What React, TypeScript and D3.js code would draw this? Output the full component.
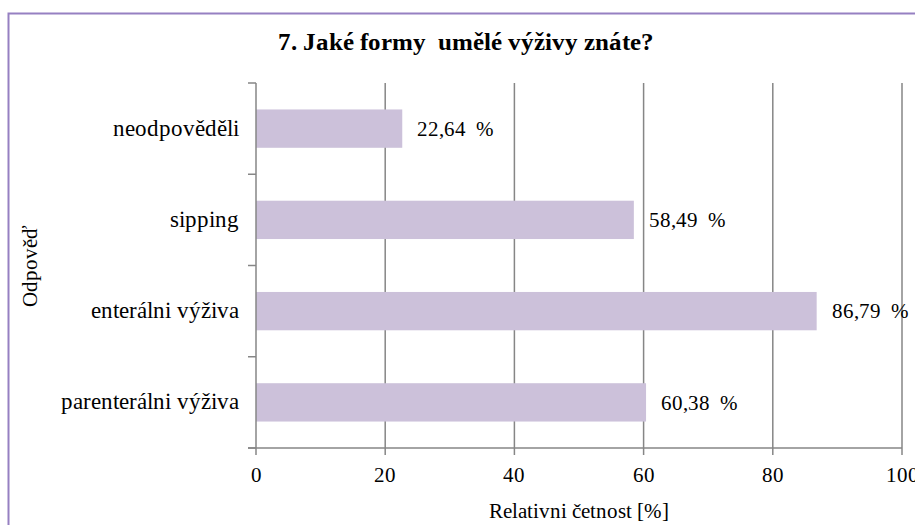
import React from 'react';
import * as d3 from 'd3';

const title = '7. Jaké formy  umělé výživy znáte?';
const categories = ['neodpověděli', 'sipping', 'enterálni výživa', 'parenterálni výživa'];
const values = [22.64, 58.49, 86.79, 60.38];
const xTicks = [0, 20, 40, 60, 80, 100];
const xAxisTitle = 'Relativni četnost [%]';
const yAxisTitle = 'Odpověď';

const W = 915;
const H = 525;
const FONT = "ChartSerif, 'Liberation Serif', 'Times New Roman', Tinos, FreeSerif, monospace";

const fontCss = `
@font-face { font-family: 'ChartSerif'; font-weight: 400; src: local('Liberation Serif'), local('LiberationSerif'), local('LiberationSerif-Regular'), local('Tinos'), local('FreeSerif'); }
@font-face { font-family: 'ChartSerif'; font-weight: 700; src: local('Liberation Serif Bold'), local('LiberationSerif-Bold'), local('Tinos Bold'), local('FreeSerif Bold'); }
`;

const fmt = (v: number) => d3.format('.2f')(v).replace('.', ',') + '\u00a0\u00a0%';

export default function App() {
  const x = d3.scaleLinear().domain([0, 100]).range([256, 902]);
  const y = d3.scaleBand<string>().domain(categories).range([83, 448]).paddingInner(0.58).paddingOuter(0.29);
  const step = y.step();
  const [y0, y1] = y.range();
  const bounds = d3.range(categories.length + 1).map((i) => y0 + i * step);
  const ts: React.CSSProperties = { fontFamily: FONT };

  return (
    <svg
      width={W}
      height={H}
      style={{ position: 'absolute', left: 0, top: 0, background: '#fff' }}
    >
      <style>{fontCss}</style>
      <rect x={0} y={0} width={W} height={H} fill="#fff" />
      <rect x={8.5} y={13.5} width={W + 20} height={H + 20} fill="none" stroke="#9680C2" strokeWidth={2} />
      <text x={466} y={50} textAnchor="middle" fontSize={25} fontWeight="bold" fill="#000" style={{ ...ts, whiteSpace: 'pre' }}>
        {title}
      </text>
      {xTicks.filter((t) => t > 0).map((t) => (
        <line key={'g' + t} x1={x(t)} x2={x(t)} y1={y0} y2={y1} stroke="#868686" strokeWidth={1.5} />
      ))}
      {categories.map((c, i) => (
        <rect key={c} x={x(0)} y={y(c)} width={x(values[i]) - x(0)} height={y.bandwidth()} fill="#CCC1DA" />
      ))}
      {categories.map((c, i) => (
        <text
          key={'v' + c}
          x={x(values[i]) + 15}
          y={(y(c) as number) + y.bandwidth() / 2}
          dy="0.35em"
          fontSize={21}
          fill="#000"
          style={ts}
        >
          {fmt(values[i])}
        </text>
      ))}
      <line x1={x(0)} x2={x(0)} y1={y0} y2={y1} stroke="#868686" strokeWidth={1.5} />
      {bounds.map((b, i) => (
        <line key={'yt' + i} x1={x(0) - 8} x2={x(0)} y1={b} y2={b} stroke="#868686" strokeWidth={1.5} />
      ))}
      {categories.map((c) => (
        <text
          key={'yl' + c}
          x={239}
          y={(y(c) as number) + y.bandwidth() / 2}
          dy="0.3em"
          textAnchor="end"
          fontSize={23}
          fill="#000"
          style={ts}
        >
          {c}
        </text>
      ))}
      <line x1={x(0) - 8} x2={x(100)} y1={y1} y2={y1} stroke="#868686" strokeWidth={1.5} />
      {xTicks.map((t) => (
        <g key={'xt' + t}>
          <line x1={x(t)} x2={x(t)} y1={y1} y2={y1 + 7} stroke="#868686" strokeWidth={1.5} />
          <text x={x(t)} y={482} textAnchor="middle" fontSize={21} fill="#000" style={ts}>
            {t}
          </text>
        </g>
      ))}
      <text x={(x(0) + x(100)) / 2} y={518} textAnchor="middle" fontSize={21} fill="#000" style={ts}>
        {xAxisTitle}
      </text>
      <text
        transform={`translate(37, ${(y0 + y1) / 2}) rotate(-90)`}
        textAnchor="middle"
        fontSize={21}
        fill="#000"
        style={ts}
      >
        {yAxisTitle}
      </text>
    </svg>
  );
}
